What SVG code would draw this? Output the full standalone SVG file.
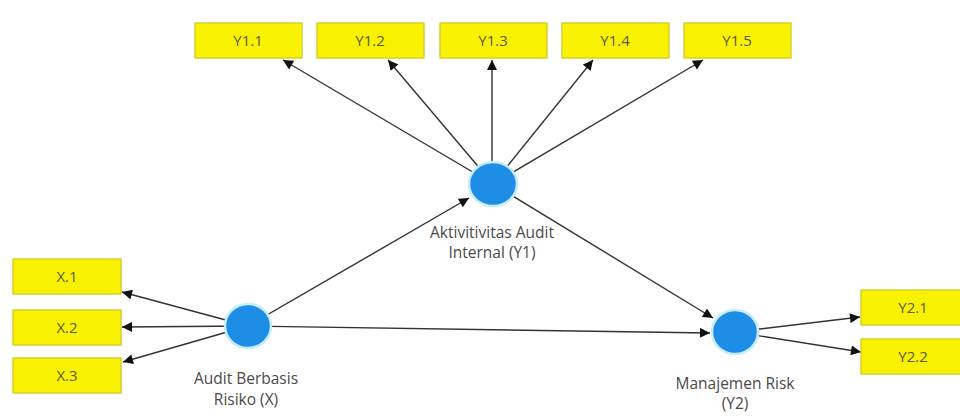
<svg xmlns="http://www.w3.org/2000/svg" width="960" height="416" viewBox="0 0 960 416">
<defs>
<marker id="ah" viewBox="0 0 10 10" refX="10" refY="5" markerWidth="11" markerHeight="10" markerUnits="userSpaceOnUse" orient="auto">
<path d="M0,0 L10,5 L0,10 Z" fill="#111"/>
</marker>
</defs>
<style>
.box{fill:#f8f200;stroke:#d6cf30;stroke-width:1.5}
.bt{font-family:"Open Sans","DejaVu Sans",sans-serif;font-size:15px;fill:#5a5a2a;text-anchor:middle}
.lv{fill:#1e8de6;stroke:#c8ecff;stroke-width:2.5}
.lt{font-family:"Open Sans","DejaVu Sans",sans-serif;font-size:15.5px;fill:#4a4a4a;text-anchor:middle}
.c{stroke:#333;stroke-width:1.4;fill:none;marker-end:url(#ah)}
</style>
<rect width="960" height="416" fill="#fff"/>
<g id="connectors">
<line class="c" x1="493" y1="184" x2="283" y2="60"/>
<line class="c" x1="493" y1="184" x2="388" y2="60"/>
<line class="c" x1="492" y1="184" x2="492" y2="60"/>
<line class="c" x1="493" y1="184" x2="593" y2="60"/>
<line class="c" x1="493" y1="184" x2="703" y2="60"/>
<line class="c" x1="493" y1="184" x2="713" y2="318"/>
<line class="c" x1="248" y1="326" x2="469" y2="198"/>
<line class="c" x1="248" y1="326" x2="710" y2="333"/>
<line class="c" x1="248" y1="326" x2="122" y2="292"/>
<line class="c" x1="248" y1="326" x2="122" y2="327"/>
<line class="c" x1="248" y1="326" x2="123" y2="362"/>
<line class="c" x1="735" y1="332" x2="860" y2="317"/>
<line class="c" x1="735" y1="332" x2="861" y2="352"/>
</g>
<g id="Y1.1"><rect class="box" x="195" y="23" width="107" height="35"/><text class="bt" x="248" y="46">Y1.1</text></g>
<g id="Y1.2"><rect class="box" x="317" y="23" width="107" height="35"/><text class="bt" x="370" y="46">Y1.2</text></g>
<g id="Y1.3"><rect class="box" x="440" y="23" width="107" height="35"/><text class="bt" x="493" y="46">Y1.3</text></g>
<g id="Y1.4"><rect class="box" x="562" y="23" width="107" height="35"/><text class="bt" x="615" y="46">Y1.4</text></g>
<g id="Y1.5"><rect class="box" x="684" y="23" width="107" height="35"/><text class="bt" x="737" y="46">Y1.5</text></g>
<g id="X.1"><rect class="box" x="13" y="259" width="108" height="35"/><text class="bt" x="67" y="282">X.1</text></g>
<g id="X.2"><rect class="box" x="13" y="310" width="108" height="35"/><text class="bt" x="67" y="333">X.2</text></g>
<g id="X.3"><rect class="box" x="13" y="358" width="108" height="35"/><text class="bt" x="67" y="381">X.3</text></g>
<g id="Y2.1"><rect class="box" x="861" y="290" width="106" height="35"/><text class="bt" x="913" y="313">Y2.1</text></g>
<g id="Y2.2"><rect class="box" x="861" y="339" width="106" height="35"/><text class="bt" x="913" y="362">Y2.2</text></g>
<g id="Y1"><ellipse class="lv" cx="493" cy="184" rx="24" ry="22"/><text class="lt" x="492" y="238">Aktivitivitas Audit</text><text class="lt" x="492" y="258">Internal (Y1)</text></g>
<g id="X"><ellipse class="lv" cx="248" cy="326" rx="23" ry="22"/><text class="lt" x="246" y="384">Audit Berbasis</text><text class="lt" x="246" y="405">Risiko (X)</text></g>
<g id="Y2"><ellipse class="lv" cx="735" cy="332" rx="23" ry="22"/><text class="lt" x="735" y="389">Manajemen Risk</text><text class="lt" x="735" y="409">(Y2)</text></g>
</svg>
